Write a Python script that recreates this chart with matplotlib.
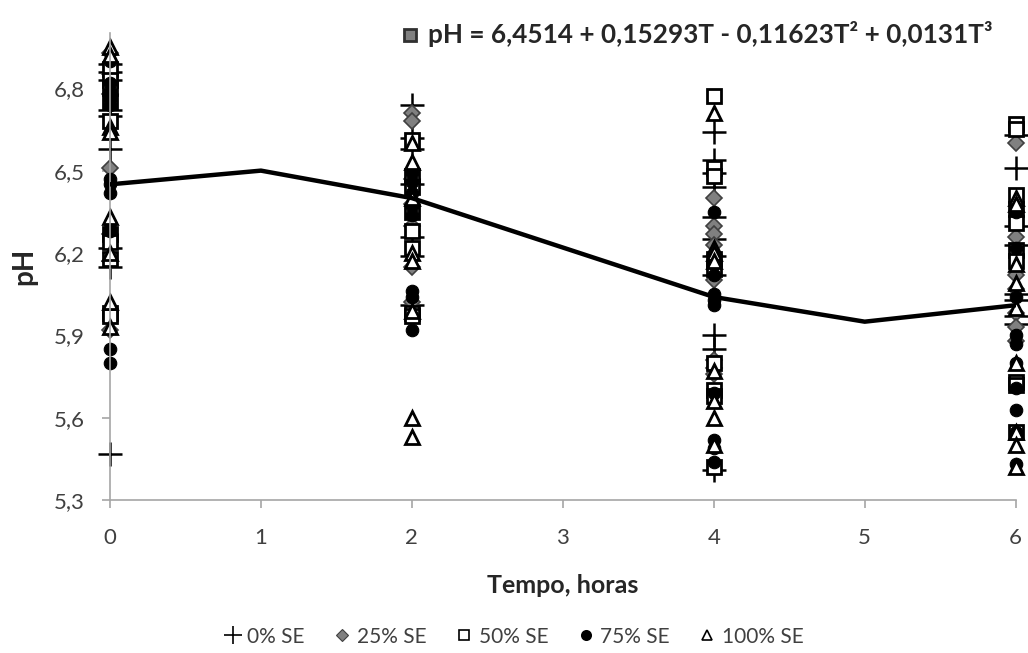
import numpy as np
import matplotlib
matplotlib.use("Agg")
import matplotlib.pyplot as plt
from matplotlib.ticker import FuncFormatter, FixedLocator, MultipleLocator
from matplotlib.lines import Line2D

plt.rcParams['font.family'] = ['Lato', 'DejaVu Sans']

# time points (hours)
tempos = [0, 2, 4, 6]

# pH readings per treatment, one list per time point
ph_0 = [
    [6.89, 6.86, 6.83, 6.72, 6.70, 6.58, 6.22, 6.15, 5.47],
    [6.74, 6.62, 6.58, 6.45, 6.26, 6.19, 6.01],
    [6.64, 6.54, 6.49, 6.44, 6.33, 6.25, 6.19, 6.12, 5.90, 5.85, 5.41],
    [6.63, 6.51, 6.30, 6.23, 6.05, 6.03, 5.97, 5.94],
]
ph_25 = [
    [6.93, 6.85, 6.78, 6.51, 6.27, 6.17, 5.92],
    [6.71, 6.68, 6.47, 6.38, 6.30, 6.15, 6.02],
    [6.40, 6.30, 6.27, 6.23, 6.10, 5.81, 5.78, 5.76],
    [6.60, 6.26, 6.12, 6.07, 5.98, 5.93, 5.88],
]
ph_50 = [
    [6.87, 6.83, 6.80, 6.75, 6.68, 6.27, 6.24, 6.18, 5.98, 5.97],
    [6.61, 6.48, 6.44, 6.35, 6.28, 6.22, 5.98, 5.97],
    [6.77, 6.51, 6.48, 6.18, 6.14, 5.80, 5.70, 5.68, 5.42],
    [6.67, 6.65, 6.41, 6.36, 6.31, 6.21, 6.17, 5.73, 5.72, 5.55],
]
ph_75 = [
    [6.90, 6.82, 6.79, 6.76, 6.74, 6.47, 6.45, 6.42, 6.31, 6.28, 5.85, 5.80],
    [6.49, 6.46, 6.42, 6.37, 6.34, 6.06, 6.04, 5.92],
    [6.35, 6.16, 6.12, 6.05, 6.03, 6.01, 5.69, 5.52, 5.49, 5.44],
    [6.35, 6.22, 6.04, 5.90, 5.87, 5.80, 5.71, 5.63, 5.55, 5.43],
]
ph_100 = [
    [6.95, 6.92, 6.66, 6.64, 6.33, 6.20, 6.02, 5.93],
    [6.60, 6.53, 6.40, 6.20, 6.17, 5.99, 5.60, 5.53],
    [6.71, 6.22, 6.20, 6.17, 5.77, 5.66, 5.60, 5.50],
    [6.40, 6.38, 6.16, 6.09, 6.00, 5.80, 5.55, 5.50, 5.42],
]

# fitted curve at whole hours
trend_t = [0, 1, 2, 3, 4, 5, 6]
trend_ph = [6.45, 6.50, 6.40, 6.22, 6.04, 5.95, 6.01]

y_ticks = [5.3, 5.6, 5.9, 6.2, 6.5, 6.8]
labels = ['0% SE', '25% SE', '50% SE', '75% SE', '100% SE']
equation = 'pH = 6,4514 + 0,15293T - 0,11623T² + 0,0131T³'


def flatten(series):
    xs, ys = [], []
    for t, vals in zip(tempos, series):
        xs += [t] * len(vals)
        ys += vals
    return xs, ys


fig = plt.figure(figsize=(10.28, 6.53), dpi=100)
ax = fig.add_axes([0.107, 0.234, 0.881, 0.715])

styles = [
    dict(marker='+', ms=17, mew=1.8, color='black', mfc='black', mec='black'),
    dict(marker='D', ms=8, mew=1.2, color='#808080', mfc='#808080', mec='#404040'),
    dict(marker='s', ms=10, mew=2.0, color='black', mfc='white', mec='black'),
    dict(marker='o', ms=9, mew=0.8, color='black', mfc='black', mec='black'),
    dict(marker='^', ms=10.5, mew=2.0, color='black', mfc='white', mec='black'),
]

for series, st in zip([ph_0, ph_25, ph_50, ph_75, ph_100], styles):
    xs, ys = flatten(series)
    ax.plot(xs, ys, linestyle='none', clip_on=False, **st)

ax.plot(trend_t, trend_ph, color='black', lw=3.2, zorder=5)

ax.set_xlim(0, 6)
ax.set_ylim(5.3, 7.0)
ax.yaxis.set_major_locator(FixedLocator(y_ticks))
ax.xaxis.set_major_locator(MultipleLocator(1))
ax.yaxis.set_major_formatter(FuncFormatter(lambda v, p: f'{v:.1f}'.replace('.', ',')))

for s in ['top', 'right']:
    ax.spines[s].set_visible(False)
for s in ['left', 'bottom']:
    ax.spines[s].set_color('#a6a6a6')
    ax.spines[s].set_linewidth(1.2)
ax.tick_params(axis='both', colors='#a6a6a6', length=6, width=1.2,
               labelcolor='#404040', labelsize=16)
ax.tick_params(axis='x', pad=14)
ax.tick_params(axis='y', pad=12)

ax.set_xlabel('Tempo, horas', fontsize=18, fontweight='bold', color='#262626', va='center')
ax.xaxis.set_label_coords(0.5, -0.182)
ax.set_ylabel('pH', fontsize=20, fontweight='bold', color='#262626', labelpad=12)

# equation with its little legend key
fig.add_artist(Line2D([0.399], [0.946], marker='s', ms=9, mfc='#808080', mec='#303030',
                      mew=2, transform=fig.transFigure))
fig.text(0.416, 0.948, equation, fontsize=18.8, fontweight='bold', color='#262626',
         va='center', ha='left')

handles = [Line2D([], [], linestyle='none', marker=st['marker'],
                  ms=st['ms'] * 0.75, mew=1.2 if st['marker'] != 'D' else 0.8,
                  mfc=st['mfc'], mec=st['mec']) for st in styles]
fig.legend(handles, labels, loc='center', bbox_to_anchor=(0.5, 0.025), ncol=5,
           frameon=False, fontsize=15, handlelength=0.8, handletextpad=0.3,
           columnspacing=1.4, labelcolor='#404040')

fig.savefig('out.png', dpi=100)
